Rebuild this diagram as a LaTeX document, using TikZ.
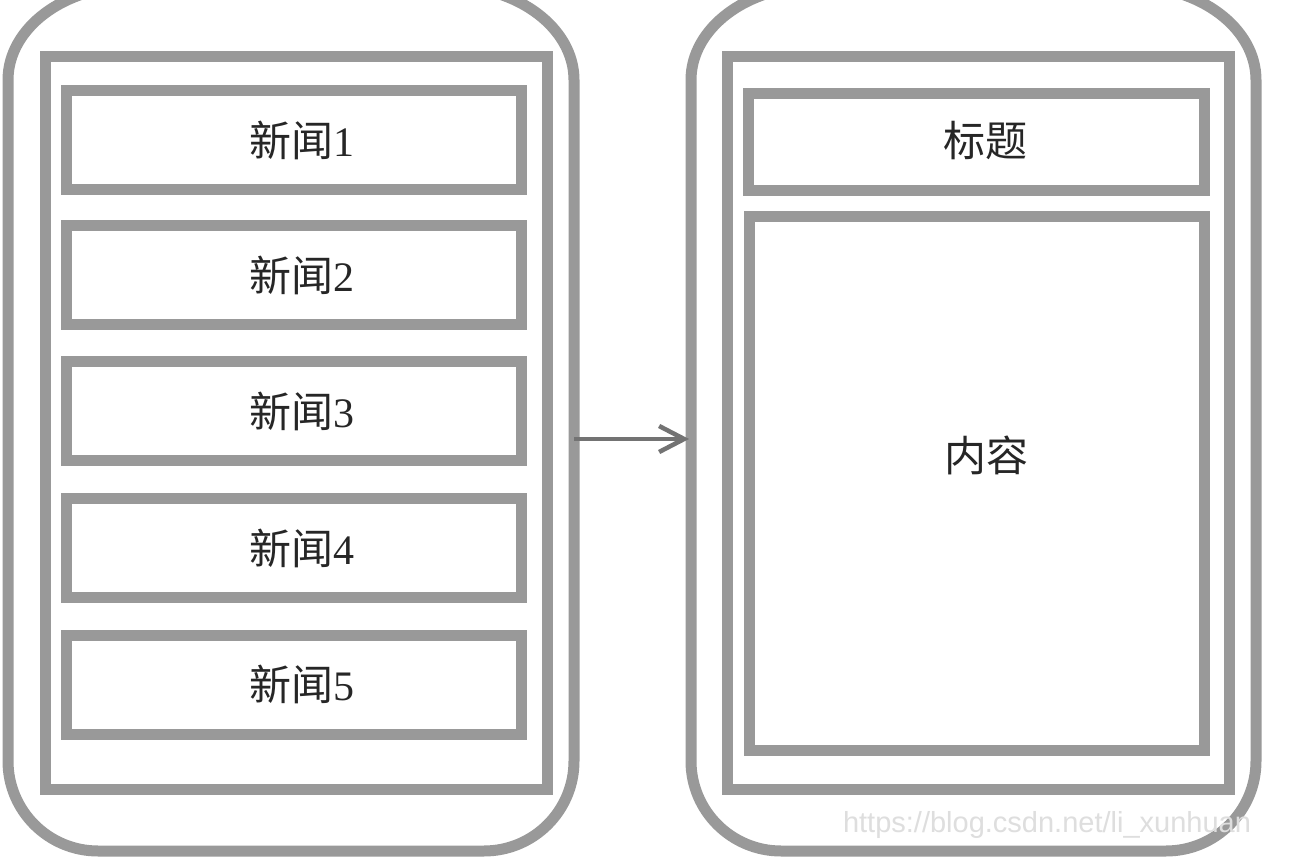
\documentclass[tikz,border=0pt]{standalone}
\usepackage{fontspec}
\setmainfont{Liberation Serif}
\newfontfamily\cjk{Noto Sans CJK SC}
\newfontfamily\wmfont{Liberation Sans}
\usetikzlibrary{arrows.meta}
\definecolor{boxgray}{RGB}{153,153,153}
\definecolor{arrgray}{RGB}{115,115,115}
\definecolor{wmgray}{RGB}{222,222,222}
\tikzset{
  frame/.style={draw=boxgray, line width=11pt},
  box/.style={draw=boxgray, line width=11pt, inner sep=0pt, outer sep=0pt},
  txt/.style={inner sep=0pt, font=\fontsize{42pt}{50pt}\selectfont, text=black!85},
  arr/.style={draw=arrgray, line width=4.5pt, -{Straight Barb[length=25pt,width=26pt,line width=4.5pt]}},
  wm/.style={inner sep=0pt, font=\wmfont\fontsize{29pt}{34pt}\selectfont, text=wmgray}
}
\begin{document}
\begin{tikzpicture}[x=1pt,y=-1pt]
\useasboundingbox[fill=white] (0,0) rectangle (1310,866);
% left phone outline
\draw[frame] (8,80) arc[start angle=180,end angle=270,x radius=125,y radius=94]
  -- (449,-14) arc[start angle=270,end angle=360,x radius=125,y radius=94]
  -- (574,761) arc[start angle=0,end angle=90,radius=90]
  -- (98,851) arc[start angle=90,end angle=180,radius=90] -- cycle;
% right phone outline
\draw[frame] (691,80) arc[start angle=180,end angle=270,x radius=125,y radius=94]
  -- (1131,-14) arc[start angle=270,end angle=360,x radius=125,y radius=94]
  -- (1256,761) arc[start angle=0,end angle=90,radius=90]
  -- (781,851) arc[start angle=90,end angle=180,radius=90] -- cycle;
% left screen
\node[box, minimum width=502pt, minimum height=732pt] (lscreen) at (296,423) {};
% news items
\node[box, minimum width=455pt, minimum height=99pt] (n1) at (293.5,140.5) {};
\node[box, minimum width=455pt, minimum height=99pt] (n2) at (293.5,275.5) {};
\node[box, minimum width=455pt, minimum height=99pt] (n3) at (293.5,411.5) {};
\node[box, minimum width=455pt, minimum height=99pt] (n4) at (293.5,548) {};
\node[box, minimum width=455pt, minimum height=99pt] (n5) at (293.5,684.5) {};
\node[txt] (t1) at ([xshift=8pt]n1.center) {{\cjk 新闻}1};
\node[txt] (t2) at ([xshift=8pt]n2.center) {{\cjk 新闻}2};
\node[txt] (t3) at ([xshift=8pt]n3.center) {{\cjk 新闻}3};
\node[txt] (t4) at ([xshift=8pt]n4.center) {{\cjk 新闻}4};
\node[txt] (t5) at ([xshift=8pt]n5.center) {{\cjk 新闻}5};
% right screen
\node[box, minimum width=502pt, minimum height=732pt] (rscreen) at (978,423) {};
\node[box, minimum width=456pt, minimum height=97pt] (title) at (976,142.5) {};
\node[box, minimum width=455pt, minimum height=533pt] (content) at (976.5,483.5) {};
\node[txt] (ttitle) at (985,141) {\cjk 标题};
\node[txt] (tcontent) at (986,455) {\cjk 内容};
% arrow
\coordinate (aL) at (574,439);
\coordinate (aR) at (689,439);
\draw[arr] (aL) -- (aR);
% watermark
\node[wm] (wmark) at (1047,825) {https://blog.csdn.net/li\_xunhuan};
\end{tikzpicture}
\end{document}
